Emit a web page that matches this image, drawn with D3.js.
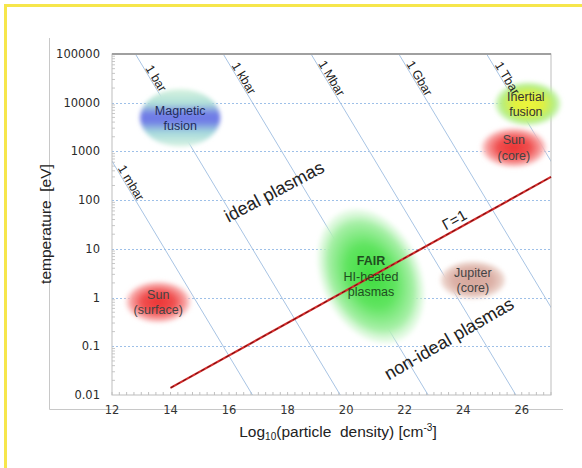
<!DOCTYPE html>
<html><head><meta charset="utf-8">
<script src="https://cdn.jsdelivr.net/npm/d3@7/dist/d3.min.js"></script>
<style>
html,body{margin:0;padding:0;background:#fff;}
svg{display:block;}
text{white-space:pre;}
</style></head>
<body>
<script>
// ---- data ----
const xTicks = [12,14,16,18,20,22,24,26];
const yTicks = [0.01,0.1,1,10,100,1000,10000,100000];
const yTickLabels = ["0.01","0.1","1","10","100","1000","10000","100000"];
const pressureLabels = ["1 mbar","1 bar","1 kbar","1 Mbar","1 Gbar","1 Tbar"];
const pressureLogNT = [14.8,17.8,20.8,23.8,26.8,29.8];   // log10(n*T) along each isobar
const pressureLabelT = [200,28000,28000,28000,28000,28000];
const gammaN = [14,27];
const gammaT = [0.014,300];
const regionNames = [["Magnetic","fusion"],["Inertial","fusion"],["Sun","(core)"],["FAIR","HI-heated","plasmas"],["Jupiter","(core)"],["Sun","(surface)"]];
const regionN  = [14.33,26.21,25.73,20.85,24.33,13.58];
const regionT  = [4900,9500,1200,2.75,2.3,0.81];
const regionDN = [1.37,1.13,1.13,1.68,1.13,1.13];
const regionDT = [0.59,0.45,0.41,1.45,0.39,0.43];

const W=582,H=468;
const svg=d3.select("body").append("svg").attr("width",W).attr("height",H);
const defs=svg.append("defs");
const x=d3.scaleLinear().domain([12,27]).range([112,551]);
const y=d3.scaleLog().domain([0.01,100000]).range([395,54]);
const FONT="Liberation Sans, Arial, sans-serif";

// yellow frame
svg.append("path").attr("d",`M${W+5},5.5 H5.5 V${H+5}`).attr("fill","none").attr("stroke","#f6e64b").attr("stroke-width",3);

// outer axis lines (light gray)
svg.append("line").attr("x1",49.5).attr("x2",49.5).attr("y1",38).attr("y2",409.5).attr("stroke","#c8c8c8");
svg.append("line").attr("x1",49.5).attr("x2",563).attr("y1",409.5).attr("y2",409.5).attr("stroke","#c8c8c8");

// clip
defs.append("clipPath").attr("id","plot").append("rect").attr("x",112).attr("y",54).attr("width",439).attr("height",341);

// grid lines
svg.append("g").selectAll("line").data(yTicks.slice(1,-1)).join("line")
  .attr("x1",112).attr("x2",551).attr("y1",d=>Math.round(y(d))+0.5).attr("y2",d=>Math.round(y(d))+0.5)
  .attr("stroke","#9ec0e8").attr("stroke-width",1.2).attr("stroke-dasharray","2,2");

// left minor ticks
const minor=[];
for(let e=-2;e<5;e++){for(let k=2;k<10;k++){minor.push(k*Math.pow(10,e));}}
svg.append("g").selectAll("line").data(minor).join("line")
  .attr("x1",112).attr("x2",115).attr("y1",d=>y(d)).attr("y2",d=>y(d)).attr("stroke","#c8c8c8");
// bottom minor ticks
const bminor=d3.range(12,27.01,0.25);
svg.append("g").selectAll("line").data(bminor).join("line")
  .attr("x1",d=>x(d)).attr("x2",d=>x(d)).attr("y1",395).attr("y2",392).attr("stroke","#c0c0c0");

// isobars
const iso=svg.append("g").attr("clip-path","url(#plot)");
iso.selectAll("line").data(pressureLogNT).join("line")
  .attr("x1",d=>x(d-5)).attr("y1",y(100000))
  .attr("x2",d=>x(d+2)).attr("y2",y(0.01))
  .attr("stroke","#a8c4e4").attr("stroke-width",1);

// plot box
svg.append("rect").attr("x",112).attr("y",54).attr("width",439).attr("height",341)
  .attr("fill","none").attr("stroke","#bdbdbd").attr("stroke-width",1);
svg.append("line").attr("x1",112).attr("x2",551).attr("y1",54).attr("y2",54).attr("stroke","#a0a0a0").attr("stroke-width",2);

// gradients
function radial(id,stops){
  const g=defs.append("radialGradient").attr("id",id).attr("cx","50%").attr("cy","50%").attr("r","50%");
  stops.forEach(s=>g.append("stop").attr("offset",s[0]).attr("stop-color",s[1]).attr("stop-opacity",s[2]===undefined?1:s[2]));
}
const lin=defs.append("linearGradient").attr("id","g0").attr("x1",0).attr("y1",0).attr("x2",0).attr("y2",1);
[["0%","#d8f3e0"],["25%","#b0e0d8"],["44%","#6f7ce6"],["56%","#6f7ce6"],["75%","#a4d8dc"],["100%","#daf4e2"]]
  .forEach(s=>lin.append("stop").attr("offset",s[0]).attr("stop-color",s[1]));
radial("g1",[["0%","#eef53a"],["45%","#e0f040"],["80%","#b4ee80"],["100%","#c8f4b8",0.6]]);
radial("g2",[["0%","#ec3434"],["50%","#f05050"],["85%","#f8a8a8"],["100%","#fcd8d8",0.5]]);
radial("g3",[["0%","#3fdc3f"],["45%","#5fe45f"],["80%","#a8f0a8"],["100%","#d8f8d8",0.4]]);
radial("g4",[["0%","#d6a79c"],["60%","#dcb0a6"],["90%","#ecd4cc"],["100%","#f4e4de",0.5]]);
radial("g5",[["0%","#ec3434"],["50%","#f05050"],["85%","#f8a8a8"],["100%","#fcd8d8",0.5]]);
defs.append("filter").attr("id","soft").attr("x","-20%").attr("y","-20%").attr("width","140%").attr("height","140%")
  .append("feGaussianBlur").attr("stdDeviation",2);

const regionRot=[0,0,0,-25,0,0];
const regionColor=["#1f2d5a","#333","#444","#1f4d1f","#444","#444"];
const rg=svg.append("g");
regionN.forEach((n,i)=>{
  const cx=x(n), cy=y(regionT[i]);
  const rx=x(n+regionDN[i])-cx, ry=y(regionT[i]/Math.pow(10,regionDT[i]))-cy;
  rg.append("ellipse").attr("cx",cx).attr("cy",cy).attr("rx",rx).attr("ry",ry)
    .attr("transform",`rotate(${regionRot[i]},${cx},${cy})`)
    .attr("fill",`url(#g${i})`).attr("filter","url(#soft)");
});

// gamma line
const gl=d3.line().x(d=>x(d[0])).y(d=>y(d[1]));
const gdata=gammaN.map((n,i)=>[n,gammaT[i]]);
svg.append("path").attr("d",gl(gdata)).attr("stroke","#d42a2a").attr("stroke-width",2.2).attr("fill","none");
svg.append("path").attr("d",gl(gdata)).attr("stroke","#6e1010").attr("stroke-width",1).attr("stroke-dasharray","4,3").attr("fill","none");

// region texts
regionNames.forEach((lines,i)=>{
  const cx=x(regionN[i]), cy=y(regionT[i]);
  const lh=15.5;
  const t=svg.append("text").attr("font-family",FONT).attr("font-size",12.5)
    .attr("fill",regionColor[i]).attr("text-anchor","middle");
  lines.forEach((s,j)=>{
    t.append("tspan").attr("x",cx+(i===1?-2:0)).attr("y",cy+(j-(lines.length-1)/2)*lh+4.5)
      .attr("font-weight",(i===3&&j===0)?"bold":"normal").text(s);
  });
});

// pressure labels
const ang=Math.atan2(y(1)-y(10),x(1)-x(0))*180/Math.PI; // slope of isobar in px
pressureLabels.forEach((s,i)=>{
  const T=pressureLabelT[i];
  const n=pressureLogNT[i]-Math.log10(T);
  const px=x(n), py=y(T);
  svg.append("text").attr("transform",`translate(${px},${py}) rotate(${ang})`)
    .attr("text-anchor","middle").attr("dy",-1)
    .attr("font-family",FONT).attr("font-size",12.5).attr("fill","#222").text(s);
});

// Gamma label
const gang=-Math.atan2(y(gammaT[0])-y(gammaT[1]),x(gammaN[1])-x(gammaN[0]))*180/Math.PI;
svg.append("text").attr("transform",`translate(${x(23.85)},${y(27)}) rotate(${gang})`)
  .attr("text-anchor","middle").attr("dy",-4)
  .attr("font-family",FONT).attr("font-size",15).attr("fill","#222").text("Γ=1");

// region labels
svg.append("text").attr("transform",`translate(277,197) rotate(-28)`).attr("text-anchor","middle")
  .attr("font-family",FONT).attr("font-size",18).attr("fill","#222").text("ideal plasmas");
svg.append("text").attr("transform",`translate(452,344) rotate(-30)`).attr("text-anchor","middle")
  .attr("font-family",FONT).attr("font-size",18).attr("fill","#222").text("non-ideal plasmas");

// y tick labels
svg.append("g").selectAll("text").data(yTicks).join("text")
  .attr("x",100).attr("y",d=>y(d)+4).attr("text-anchor","end")
  .attr("font-family","DejaVu Sans, sans-serif").attr("font-size",11.5).attr("fill","#2a2a2a")
  .text((d,i)=>yTickLabels[i]);
// x tick labels
svg.append("g").selectAll("text").data(xTicks).join("text")
  .attr("x",d=>x(d)).attr("y",413.5).attr("text-anchor","middle")
  .attr("font-family","DejaVu Sans, sans-serif").attr("font-size",11.5).attr("fill","#333")
  .text(d=>d);

// axis titles
const xt=svg.append("text").attr("x",338).attr("y",437).attr("text-anchor","middle")
  .attr("font-family",FONT).attr("font-size",15.5).attr("fill","#222");
xt.append("tspan").text("Log");
xt.append("tspan").attr("font-size",10).attr("dy",3).text("10");
xt.append("tspan").attr("dy",-3).text("(particle  density) [cm");
xt.append("tspan").attr("font-size",10).attr("dy",-6).text("-3");
xt.append("tspan").attr("dy",6).text("]");
svg.append("text").attr("transform","translate(51,224) rotate(-90)").attr("text-anchor","middle")
  .attr("font-family",FONT).attr("font-size",15.5).attr("fill","#222")
  .text("temperature  [eV]");
</script>
</body></html>
